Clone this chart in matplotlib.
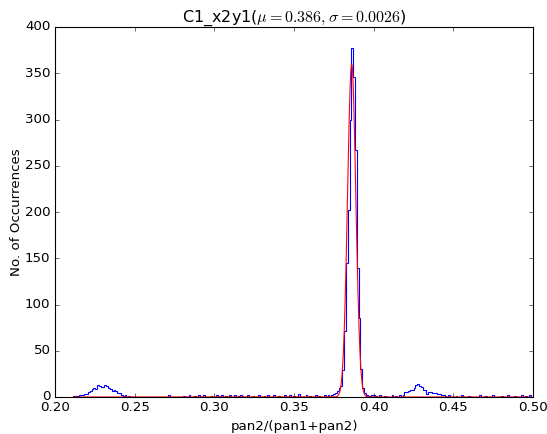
import numpy as np
import matplotlib
matplotlib.use("Agg")
import matplotlib.pyplot as plt

plt.style.use('classic')

# Histogram binning
bin_lo = 0.2115
bin_hi = 0.4985
n_bins = 250

# Non-zero bins (index, count)
nz_index = [0, 1, 2, 3, 4, 5, 6, 7, 8, 9, 10, 11, 12, 13, 14, 15, 16, 17, 18, 19,
            20, 21, 22, 23, 24, 25, 26, 27, 28, 30,
            52, 60, 63, 66, 68, 71, 75, 78, 80, 81, 83, 85, 88, 90, 91, 92, 95, 98,
            101, 104, 106, 109, 112, 115, 118, 120, 123, 127, 129, 132, 134, 137, 139,
            141, 142, 143, 144, 145, 146, 147, 148, 149, 150, 151, 152, 153, 154,
            155, 156, 157, 158, 159, 160, 161, 163, 164, 165, 167, 170,
            174, 176, 178,
            180, 181, 182, 183, 184, 185, 186, 187, 188, 189, 190, 191, 192, 193,
            194, 195, 196, 197, 198, 199, 200, 201, 202, 203,
            205, 209, 212, 216, 222, 225, 229, 234, 237, 241, 245, 247, 249]
nz_count = [1, 1, 1, 2, 2, 2, 3, 3, 5, 6, 9, 10, 9, 13, 12, 11, 11, 13, 12, 10,
            9, 7, 8, 6, 4, 4, 2, 1, 2, 1,
            2, 1, 2, 1, 2, 2, 1, 2, 1, 2, 1, 2, 2, 1, 2, 1, 2, 1,
            2, 1, 2, 2, 1, 2, 2, 1, 3, 2, 1, 2, 1, 2, 2,
            2, 3, 4, 6, 10, 12, 29, 71, 145, 202, 299, 377, 346, 267,
            140, 85, 30, 10, 4, 2, 1, 2, 2, 1, 2, 1,
            2, 1, 2,
            2, 5, 5, 7, 8, 8, 10, 13, 14, 12, 11, 8, 8, 3,
            5, 5, 4, 4, 4, 3, 3, 2, 2, 1,
            2, 1, 2, 1, 2, 1, 2, 1, 2, 1, 2, 1, 2]

# Gaussian fit parameters
fit_amp = 360.0
fit_mu = 0.3862
fit_sigma = 0.0026
title_text = r'C1_x2y1($\mu=0.386, \sigma=0.0026$)'

x_ticks = [0.20, 0.25, 0.30, 0.35, 0.40, 0.45, 0.50]
y_ticks = [0, 50, 100, 150, 200, 250, 300, 350, 400]

edges = np.linspace(bin_lo, bin_hi, n_bins + 1)
centers = 0.5 * (edges[:-1] + edges[1:])
counts = np.zeros(n_bins)
for i, c in zip(nz_index, nz_count):
    counts[i] = c

fig = plt.figure(figsize=(547 / 80, 434 / 80), dpi=80, facecolor='white')
ax = fig.add_axes([55 / 547, 1 - 397 / 434, (533 - 55) / 547, (397 - 27) / 434])

ax.hist(centers, bins=edges, weights=counts, histtype='step', color='b', linewidth=1.0)
xf = np.linspace(bin_lo, bin_hi, 3000)
yf = fit_amp * np.exp(-0.5 * ((xf - fit_mu) / fit_sigma) ** 2)
ax.plot(xf, yf, color='r', linewidth=1.0)

ax.set_xlim(0.20, 0.50)
ax.set_ylim(0, 400)
ax.set_xticks(x_ticks)
ax.set_yticks(y_ticks)
ax.set_xlabel('pan2/(pan1+pan2)')
ax.set_ylabel('No. of Occurrences', labelpad=2)
ax.set_title(title_text)

fig.savefig('out.png', dpi=80, facecolor='white')
